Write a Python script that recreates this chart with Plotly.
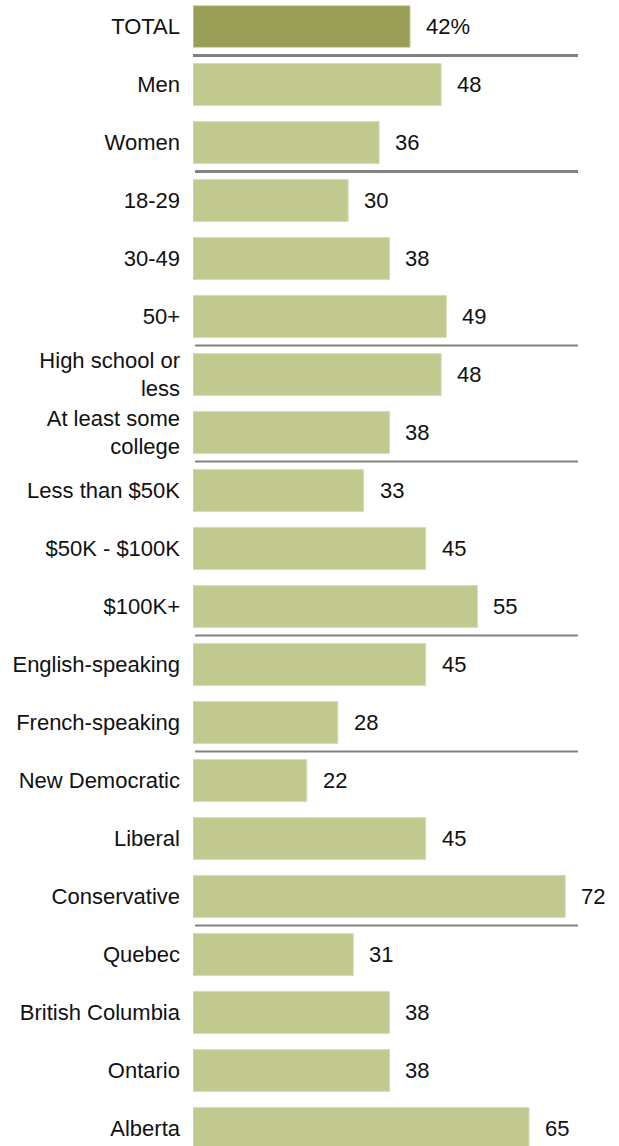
import plotly.graph_objects as go

labels = ["TOTAL", "Men", "Women", "18-29", "30-49", "50+",
          "High school or<br>less", "At least some<br>college",
          "Less than $50K", "$50K - $100K", "$100K+",
          "English-speaking", "French-speaking",
          "New Democratic", "Liberal", "Conservative",
          "Quebec", "British Columbia", "Ontario", "Alberta"]
values = [42, 48, 36, 30, 38, 49, 48, 38, 33, 45, 55, 45, 28, 22, 45, 72, 31, 38, 38, 65]
value_text = ["42%"] + [str(v) for v in values[1:]]
# group sizes -> separator lines after each group
group_sizes = [1, 2, 3, 2, 3, 2, 3, 4]

total_color = "#989E55"
bar_color = "#C1C98F"
colors = [total_color] + [bar_color] * (len(values) - 1)
ys = list(range(len(values)))

W, H = 619, 1146
left = 193
px_per_unit = 5.17
row_px = 58
first_center = 26.5

FONT = "Liberation Sans, Arial, sans-serif"

fig = go.Figure()
fig.add_trace(go.Bar(
    x=values, y=ys, orientation="h",
    marker=dict(color=colors, line=dict(color="#D6DBB4", width=1)),
    width=0.72, hoverinfo="skip",
))

for v, y, t in zip(values, ys, value_text):
    fig.add_annotation(x=v, y=y, text=t, showarrow=False, xanchor="left",
                       xshift=14, yanchor="middle",
                       font=dict(family=FONT, size=22, color="#111111"))

# separators
pos = 0
line_end = (578 - left) / px_per_unit
for k, g in enumerate(group_sizes[:-1]):
    pos += g
    fig.add_shape(type="line", xref="x", yref="y",
                  x0=0 if k == 0 else 0.4, x1=line_end,
                  y0=pos - 0.5, y1=pos - 0.5,
                  line=dict(color="#828282", width=3 if k < 2 else 2))

x_range = (W - left) / px_per_unit
y_top = -first_center / row_px
y_bot = (H - first_center) / row_px

fig.update_layout(
    width=W, height=H,
    margin=dict(l=left, r=0, t=0, b=0),
    paper_bgcolor="white", plot_bgcolor="white",
    showlegend=False,
    xaxis=dict(range=[0, x_range], visible=False, fixedrange=True),
    yaxis=dict(range=[y_bot, y_top], tickvals=ys, ticktext=labels,
               showgrid=False, zeroline=False, showline=False,
               ticks="", ticklabelstandoff=12,
               tickfont=dict(family=FONT, size=22, color="#111111")),
    bargap=0.28,
)

fig.write_html("out.html")
